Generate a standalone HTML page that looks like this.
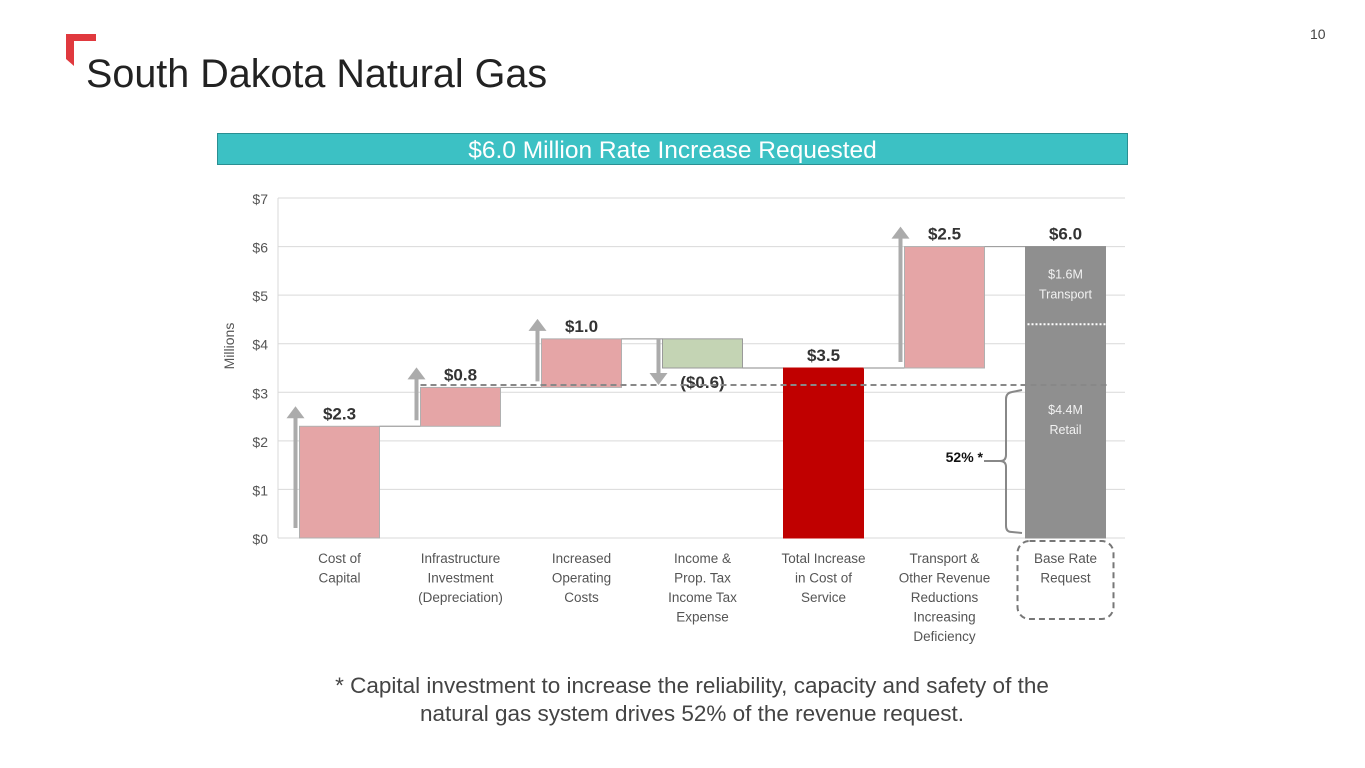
<!DOCTYPE html>
<html><head><meta charset="utf-8">
<style>
body{margin:0;width:1365px;height:768px;background:#fff;font-family:"Liberation Sans",sans-serif;overflow:hidden;position:relative}
.t{position:absolute}
</style></head><body>
<div class="t" style="left:66px;top:34px;width:32px;height:32px">
<svg width="32" height="32"><polygon points="0,0 30,0 30,7 8,7 8,32 0,25" fill="#e0393e"/></svg></div>
<div class="t" style="left:86px;top:52px;font-size:39.5px;color:#222">South Dakota Natural Gas</div>
<div class="t" style="left:1310px;top:26px;font-size:14px;color:#444">10</div>
<div class="t" style="left:217px;top:133px;width:909px;height:30px;background:#3cc1c4;border:1px solid #2a8f92;color:#fff;font-size:24.5px;text-align:center;line-height:33px">$6.0 Million Rate Increase Requested</div>
<svg class="t" style="left:0;top:0" width="1365" height="768" id="chart"></svg>
<div class="t" style="left:0;width:1384px;top:672px;font-size:22.5px;color:#444;text-align:center;line-height:28px">* Capital investment to increase the reliability, capacity and safety of the<br>natural gas system drives 52% of the revenue request.</div>
<script>
const categories=[["Cost of","Capital"],["Infrastructure","Investment","(Depreciation)"],["Increased","Operating","Costs"],["Income &","Prop. Tax","Income Tax","Expense"],["Total Increase","in Cost of","Service"],["Transport &","Other Revenue","Reductions","Increasing","Deficiency"],["Base Rate","Request"]];
const deltas=[2.3,0.8,1.0,-0.6,3.5,2.5,6.0];
const isTotal=[false,false,false,false,true,false,true];
const valueLabels=["$2.3","$0.8","$1.0","($0.6)","$3.5","$2.5","$6.0"];
const yTicks=[0,1,2,3,4,5,6,7];
const retailValue=4.4;
const capitalLine=3.15;

const NS="http://www.w3.org/2000/svg";
const svg=document.getElementById('chart');
const y0=538,yTop=198,ymax=7;
const y=v=>y0-(v/ymax)*(y0-yTop);
const x0=278,x1=1125,step=(x1-x0)/7;
const cx=i=>x0+step*(i+0.5)+1;
const bw=80;
function el(t,a,txt){const e=document.createElementNS(NS,t);for(const k in a)e.setAttribute(k,a[k]);if(txt!==undefined)e.textContent=txt;svg.appendChild(e);return e;}
const F='"Liberation Sans","DejaVu Sans",sans-serif';
yTicks.forEach(v=>{
 const g=el('line',{x1:x0,x2:x1,y1:y(v),y2:y(v),stroke:'#d9d9d9','stroke-width':1});
 
 const t=el('text',{x:268,y:y(v)+6,'text-anchor':'end','font-size':14,fill:'#555','font-family':F},'$'+v);
 
});
el('line',{x1:x0,x2:x0,y1:yTop,y2:y0,stroke:'#d9d9d9'});
const yt=el('text',{x:0,y:0,transform:'translate(234,346) rotate(-90)','text-anchor':'middle','font-size':14,fill:'#555','font-family':F},'Millions');


let run=0,prevTop=null;
deltas.forEach((d,i)=>{
 let a,b;
 if(isTotal[i]){a=0;b=d;run=d;}else{a=run;b=run+d;run=b;}
 const lo=Math.min(a,b),hi=Math.max(a,b);
 const X=cx(i)-bw/2;
 let fill=d<0?'#c4d4b4':'#e5a5a6',stroke=d<0?'#9a9a9a':'#b0b0b0';
 if(isTotal[i]){fill=i===6?'#8f8f8f':'#c00000';stroke=fill;}
 if(i>0){const c=el('line',{x1:cx(i-1)+bw/2,x2:X,y1:y(prevTop),y2:y(prevTop),stroke:'#a0a0a0','stroke-width':1.2});
  }
 const r=el('rect',{x:X,y:y(hi),width:bw,height:y(lo)-y(hi),fill:fill,stroke:stroke,'stroke-width':1});
 
 prevTop=b;
 if(!isTotal[i]){
  const ax=X-4;
  let p;
  if(d>0){const ys=y(a)-(i===0?10:6),ye=y(b)-20;
   p=`M${ax-2},${ys} L${ax-2},${ye+12} L${ax-9},${ye+12} L${ax},${ye} L${ax+9},${ye+12} L${ax+2},${ye+12} L${ax+2},${ys}Z`;}
  else{const ys=y(a),ye=y(b)+17;
   p=`M${ax-2},${ys} L${ax-2},${ye-12} L${ax-9},${ye-12} L${ax},${ye} L${ax+9},${ye-12} L${ax+2},${ye-12} L${ax+2},${ys}Z`;}
  const ar=el('path',{d:p,fill:'#ababab'});
  
 }
 let ly=d<0?y(b)+20:y(hi)-7;
 const lt=el('text',{x:cx(i),y:ly,'text-anchor':'middle','font-size':17,'font-weight':'bold',fill:'#333','font-family':F},valueLabels[i]);
 
 categories[i].forEach((s,k)=>{
  const ct=el('text',{x:cx(i),y:563+k*19.5,'text-anchor':'middle','font-size':13.5,fill:'#555','font-family':F},s);
  
 });
});
const dl=el('line',{x1:cx(1)-bw/2,x2:1108,y1:y(capitalLine),y2:y(capitalLine),stroke:'#888','stroke-width':2,'stroke-dasharray':'6,4'});

const bx=cx(6)-bw/2;
const ds=el('line',{x1:bx+2,x2:bx+bw,y1:y(retailValue),y2:y(retailValue),stroke:'#fff','stroke-width':2,'stroke-dasharray':'2,2'});

[["$1.6M",y(6)+32],["Transport",y(6)+52],["$4.4M",414],["Retail",434]].forEach(([s,yy])=>{
 const t=el('text',{x:cx(6),y:yy,'text-anchor':'middle','font-size':12.5,fill:'#f2f2f2','font-family':F},s);
 
});
const br=el('path',{d:`M1022,${y(capitalLine)+5} L1012,${y(capitalLine)+7} Q1006,${y(capitalLine)+8} 1006,${y(capitalLine)+14} L1006,455 Q1006,461 1000,461 Q1006,461 1006,467 L1006,526 Q1006,532 1012,532 L1022,533 M1000,461 L984,461`,fill:'none',stroke:'#888','stroke-width':2});

const pt=el('text',{x:983,y:462,'text-anchor':'end','font-size':14,'font-weight':'bold',fill:'#111','font-family':F},'52% *');

const bxr=el('rect',{x:bx-8,y:541,width:bw+16,height:78,rx:12,fill:'none',stroke:'#777','stroke-width':2,'stroke-dasharray':'6,4'});

</script>
</body></html>
